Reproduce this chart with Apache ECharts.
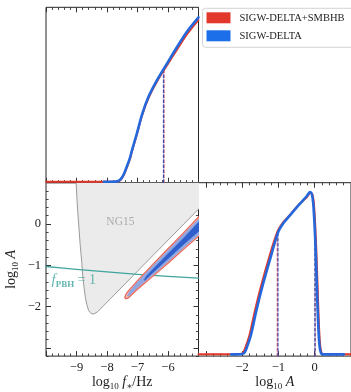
<!DOCTYPE html>
<html>
<head>
<meta charset="utf-8">
<script src="https://cdn.jsdelivr.net/npm/echarts@6/dist/echarts.min.js"></script>
<style>
  html, body { margin: 0; padding: 0; background: #fff; }
  #c { width: 351px; height: 392px; }
</style>
</head>
<body>
<div id="c"></div>
<script>
// ---- marginal posterior of log10 f* (normalised to panel height) ----
const fStarBlue = [[-8.1,0.005],[-7.8,0.005],[-7.65,0.008],[-7.55,0.02],[-7.45,0.048],[-7.35,0.092],[-7.25,0.14],[-7.18,0.186],[-7.02,0.281],[-6.85,0.39],[-6.64,0.49],[-6.36,0.585],[-6.03,0.68],[-5.7,0.775],[-5.38,0.861],[-5.0,0.943]];
const fStarRed  = [[-10,0.005],[-7.8,0.005],[-7.65,0.007],[-7.55,0.017],[-7.45,0.043],[-7.35,0.087],[-7.25,0.134],[-7.18,0.18],[-7.02,0.275],[-6.85,0.383],[-6.64,0.482],[-6.36,0.577],[-6.03,0.67],[-5.7,0.76],[-5.38,0.845],[-5.0,0.928]];
const fStarMarkBlue = [[-6.15,0],[-6.15,0.645]];
const fStarMarkRed  = [[-6.13,0],[-6.13,0.648]];

// ---- marginal posterior of log10 A ----
const logABlue = [[-2.3,0.01],[-2.0,0.012],[-1.93,0.02],[-1.86,0.055],[-1.75,0.126],[-1.61,0.259],[-1.43,0.41],[-1.2,0.58],[-1.0,0.718],[-0.85,0.77],[-0.7,0.807],[-0.43,0.873],[-0.22,0.922],[-0.13,0.946],[-0.08,0.935],[-0.04,0.88],[0.0,0.74],[0.03,0.59],[0.06,0.4],[0.09,0.22],[0.12,0.09],[0.15,0.035],[0.19,0.012],[0.25,0.01],[0.8,0.01]];
const logARed  = [[-3.2,0.01],[-2.05,0.012],[-1.97,0.02],[-1.9,0.055],[-1.79,0.126],[-1.65,0.259],[-1.47,0.41],[-1.24,0.58],[-1.03,0.716],[-0.88,0.768],[-0.72,0.805],[-0.45,0.87],[-0.22,0.916],[-0.12,0.94],[-0.06,0.93],[-0.02,0.875],[0.02,0.735],[0.05,0.585],[0.08,0.4],[0.11,0.22],[0.14,0.09],[0.17,0.035],[0.21,0.012],[0.27,0.01],[1.0,0.01]];
const logAMarkRedLo  = [[-1.03,0],[-1.03,0.715]];
const logAMarkBlueLo = [[-1.01,0],[-1.01,0.72]];
const logAMarkRedHi  = [[0.015,0],[0.015,0.68]];
const logAMarkBlueHi = [[0.005,0],[0.005,0.68]];

// ---- joint posterior (log10 f*, log10 A) ----
const ng15Region = [[-9.03,1.3],[-9.0,0.8],[-8.96,0.3],[-8.92,-0.1],[-8.88,-0.5],[-8.83,-0.9],[-8.79,-1.3],[-8.75,-1.55],[-8.71,-1.78],[-8.66,-1.96],[-8.6,-2.1],[-8.52,-2.17],[-8.44,-2.18],[-8.36,-2.15],[-8.3,-2.12],[-5.0,0.36],[-4.7,0.58],[-4.7,1.3]];
const redOuter = [[-7.42,-1.78],[-7.38,-1.7],[-7.3,-1.62],[-7.0,-1.37],[-6.5,-0.98],[-6.0,-0.6],[-5.5,-0.22],[-5.0,0.17],[-4.8,0.33],[-4.8,-0.17],[-5.0,-0.3],[-5.5,-0.62],[-6.0,-0.95],[-6.5,-1.27],[-7.0,-1.58],[-7.2,-1.72],[-7.3,-1.79],[-7.38,-1.81]];
const blueOuter = [[-7.33,-1.74],[-7.25,-1.63],[-7.0,-1.41],[-6.5,-1.02],[-6.0,-0.64],[-5.5,-0.26],[-5.0,0.11],[-4.8,0.27],[-4.8,-0.13],[-5.0,-0.26],[-5.5,-0.58],[-6.0,-0.91],[-6.5,-1.23],[-7.0,-1.54],[-7.2,-1.68],[-7.3,-1.75]];
const blueInner = [[-6.78,-1.35],[-6.7,-1.26],[-6.5,-1.1],[-6.0,-0.72],[-5.5,-0.35],[-5.0,0.04],[-4.8,0.2],[-4.8,-0.06],[-5.0,-0.18],[-5.5,-0.5],[-6.0,-0.84],[-6.5,-1.18],[-6.7,-1.32],[-6.76,-1.37]];
const fpbhLine = [[-10,-1.03],[-9,-1.1],[-8,-1.16],[-7,-1.22],[-6,-1.27],[-5,-1.31]];
const ng15LabelAt = [[-7.56,0.05]];
const fpbhLabelAt = [[-9.82,-1.37]];

// ---- axis ranges and ticks ----
const fStarRange = [-10, -5];
const logARange = [-3.2, 1];
const logAMajor = [-3, -2, -1, 0, 1];
const logALabels = [-2, -1, 0];
const legendNames = ['SIGW-DELTA+SMBHB', 'SIGW-DELTA'];

const RED = '#e2382c', BLUE = '#2468dc', TEAL = '#3fa59d', INK = '#222';
const SERIF = '"Liberation Serif", "DejaVu Serif", serif';
const fmt = v => (v < 0 ? '\u2212' : '') + Math.abs(v);

const hiddenLine = { show: false, onZero: false };
const tick = len => ({ show: true, inside: true, length: len, lineStyle: { color: '#333', width: 1 } });
const labelStyle = { fontFamily: SERIF, fontSize: 12.5, color: INK, margin: 5 };
const nameRich = {
  t: { fontFamily: SERIF, fontSize: 14, color: INK, lineHeight: 18 },
  i: { fontFamily: SERIF, fontSize: 14, fontStyle: 'italic', color: INK, lineHeight: 18 },
  s: { fontFamily: SERIF, fontSize: 9, color: INK, verticalAlign: 'bottom', lineHeight: 9 },
  a: { fontFamily: SERIF, fontSize: 9, color: INK, verticalAlign: 'bottom', lineHeight: 11 }
};

function fAxis(gridIndex, position, labels, extra) {
  return Object.assign({
    type: 'value', gridIndex, position, min: fStarRange[0], max: fStarRange[1], interval: 1,
    axisLine: hiddenLine, splitLine: { show: false },
    axisTick: tick(5),
    minorTick: { show: true, splitNumber: 5, length: 2.6, lineStyle: { color: '#333', width: 0.9 } },
    axisLabel: labels ? Object.assign({ show: true, formatter: fmt, showMinLabel: false, showMaxLabel: false }, labelStyle) : { show: false }
  }, extra || {});
}
function aMajor(gridIndex, position, labels, extra) {
  return Object.assign({
    type: 'value', gridIndex, position, min: logARange[0], max: logARange[1],
    axisLine: hiddenLine, splitLine: { show: false },
    axisTick: Object.assign(tick(5), { customValues: logAMajor }),
    axisLabel: labels ? Object.assign({ show: true, customValues: logALabels, formatter: fmt }, labelStyle) : { show: false }
  }, extra || {});
}
function aMinor(gridIndex, position) {
  return {
    type: 'value', gridIndex, position, min: logARange[0], max: logARange[1], interval: 0.2,
    axisLine: hiddenLine, splitLine: { show: false },
    axisTick: { show: true, inside: true, length: 2.6, lineStyle: { color: '#333', width: 0.9 } },
    axisLabel: { show: false }
  };
}
const unitAxis = gridIndex => ({ type: 'value', gridIndex, min: 0, max: 1, show: false, axisLine: hiddenLine });

function lineS(name, data, color, width, xi, yi, z, dashed) {
  return {
    type: 'line', name, data, xAxisIndex: xi, yAxisIndex: yi, z,
    showSymbol: false, symbol: 'none', smooth: dashed ? false : 0.3, clip: true,
    itemStyle: { color }, color,
    lineStyle: { color, width, type: dashed ? [3, 2] : 'solid', cap: 'round', join: 'round' },
    silent: true, animation: false
  };
}
function polyS(name, pts, fill, stroke, lw, z) {
  return {
    type: 'custom', name, xAxisIndex: 2, yAxisIndex: 1, clip: true, z, silent: true,
    data: pts, encode: { x: 0, y: 1 },
    renderItem: (params, api) => params.dataIndex === 0 ? {
      type: 'polygon',
      shape: { points: pts.map(p => api.coord(p)), smooth: 0 },
      style: { fill, stroke, lineWidth: lw }
    } : null
  };
}

const gridBase = { show: true, borderColor: '#262626', borderWidth: 1, backgroundColor: 'transparent', containLabel: false };

const chart = echarts.init(document.getElementById('c'));
chart.setOption({
  animation: false,
  grid: [
    Object.assign({ left: 46, top: 7.3, width: 152.5, height: 175.4 }, gridBase),
    Object.assign({ left: 46, top: 182.7, width: 152.5, height: 176.3 }, gridBase),
    Object.assign({ left: 198.5, top: 182.7, width: 153.3, height: 176.3 }, gridBase)
  ],
  xAxis: [
    fAxis(0, 'bottom', false),
    fAxis(0, 'top', false),
    fAxis(1, 'bottom', true, {
      name: '{t|log}{s|10}{t| }{i|f}{a|\u2217}{t|/Hz}', nameLocation: 'middle', nameGap: 15,
      nameTextStyle: { rich: nameRich }
    }),
    aMajor(2, 'bottom', true, {
      name: '{t|log}{s|10}{i| A}', nameLocation: 'middle', nameGap: 15,
      nameTextStyle: { rich: nameRich }
    }),
    aMinor(2, 'bottom'),
    aMajor(2, 'top', false),
    aMinor(2, 'top')
  ],
  yAxis: [
    unitAxis(0),
    aMajor(1, 'left', true, {
      name: '{t|log}{s|10}{i| A}', nameLocation: 'middle', nameGap: 26, nameRotate: 90,
      nameTextStyle: { rich: nameRich }
    }),
    aMinor(1, 'left'),
    aMajor(1, 'right', false),
    aMinor(1, 'right'),
    unitAxis(2)
  ],
  legend: {
    orient: 'vertical', left: 202.5, top: 8.3, selectedMode: false,
    padding: [4, 30, 6, 4], itemWidth: 24, itemHeight: 11, itemGap: 7,
    backgroundColor: '#fff', borderColor: '#d4d4d4', borderWidth: 1, borderRadius: 3,
    textStyle: { fontFamily: SERIF, fontSize: 10.5, color: INK, padding: [0, 0, 0, 4] },
    data: [
      { name: legendNames[0], icon: 'rect', itemStyle: { color: RED } },
      { name: legendNames[1], icon: 'rect', itemStyle: { color: '#1c6fe8' } }
    ]
  },
  series: [
    // log10 f* marginal
    lineS(legendNames[0], fStarRed, RED, 2, 0, 0, 3),
    lineS(legendNames[1], fStarBlue, BLUE, 2.6, 0, 0, 4),
    lineS('f-mark-red', fStarMarkRed, '#c04a6a', 1.1, 0, 0, 2, true),
    lineS('f-mark-blue', fStarMarkBlue, '#3a4fb0', 1.1, 0, 0, 2, true),

    // joint posterior
    polyS('NG15', ng15Region, '#ebebeb', '#9a9a9a', 1, 1),
    lineS('fPBH', fpbhLine, TEAL, 1.3, 2, 1, 2),
    polyS('red-outer', redOuter, '#f5bcb5', '#e8675a', 1.2, 3),
    polyS('blue-outer', blueOuter, '#8fa8e4', '#7d98dc', 0.6, 4),
    polyS('blue-inner', blueInner, '#2f5fcc', '#2f5fcc', 0.6, 5),
    {
      type: 'scatter', name: 'ng15-label', xAxisIndex: 2, yAxisIndex: 1, data: ng15LabelAt,
      symbolSize: 0, silent: true, z: 6,
      label: { show: true, position: 'inside', formatter: 'NG15', fontFamily: SERIF, fontSize: 11.5, color: '#9a9a9a' }
    },
    {
      type: 'scatter', name: 'fpbh-label', xAxisIndex: 2, yAxisIndex: 1, data: fpbhLabelAt,
      symbolSize: 0, silent: true, z: 6,
      label: {
        show: true, position: 'right', distance: 0,
        formatter: '{f|f}{s|PBH}{e| = 1}',
        rich: {
          f: { fontFamily: SERIF, fontSize: 15, fontStyle: 'italic', color: TEAL, lineHeight: 18 },
          s: { fontFamily: SERIF, fontSize: 9, fontWeight: 'bold', color: TEAL, verticalAlign: 'bottom', lineHeight: 10 },
          e: { fontFamily: SERIF, fontSize: 14, color: TEAL, lineHeight: 18 }
        }
      }
    },

    // log10 A marginal
    lineS('a-red', logARed, RED, 2, 3, 5, 3),
    lineS('a-blue', logABlue, BLUE, 2.6, 3, 5, 4),
    lineS('a-mark-red-lo', logAMarkRedLo, '#d2455e', 1.1, 3, 5, 2, true),
    lineS('a-mark-blue-lo', logAMarkBlueLo, '#4a4fb0', 1.1, 3, 5, 2, true),
    lineS('a-mark-red-hi', logAMarkRedHi, '#b04a78', 1.1, 3, 5, 2, true),
    lineS('a-mark-blue-hi', logAMarkBlueHi, '#3a4fa8', 1.1, 3, 5, 2, true)
  ]
});
</script>
</body>
</html>
